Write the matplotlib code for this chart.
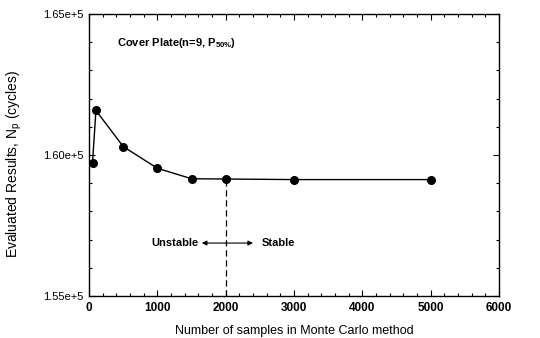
import matplotlib
matplotlib.use("Agg")
import matplotlib.pyplot as plt
from matplotlib.ticker import MultipleLocator, FuncFormatter

plt.rcParams['font.family'] = ['Liberation Sans', 'DejaVu Sans']

samples = [50, 100, 500, 1000, 1500, 2000, 3000, 5000]
cycles = [159730, 161580, 160300, 159530, 159160, 159150, 159130, 159130]
y_ticks = [155000, 160000, 165000]
x_ticks = [0, 1000, 2000, 3000, 4000, 5000, 6000]
threshold = 2000

fig = plt.figure(figsize=(5.4, 3.38), dpi=100)
ax = fig.add_axes([0.165, 0.124, 0.759, 0.8346])

ax.plot(samples, cycles, color='black', lw=1.0, marker='o', ms=5.5,
        markerfacecolor='black', markeredgecolor='black')
ax.plot([threshold, threshold], [155000, cycles[samples.index(threshold)]],
        color='black', lw=0.9, ls=(0, (5, 3)))

ax.set_xlim(0, 6000)
ax.set_ylim(155000, 165000)
ax.set_xticks(x_ticks)
ax.set_yticks(y_ticks)
ax.xaxis.set_minor_locator(MultipleLocator(200))
ax.yaxis.set_minor_locator(MultipleLocator(1000))
ax.yaxis.set_major_formatter(FuncFormatter(lambda v, p: f"{v/1e5:.2f}e+5"))

ax.tick_params(which='both', direction='in', top=True, right=True, width=0.8)
ax.tick_params(which='major', length=4)
ax.tick_params(which='minor', length=2)
ax.tick_params(axis='x', labelsize=8.5, pad=4)
ax.tick_params(axis='y', labelsize=8, pad=4)
for lab in ax.get_xticklabels():
    lab.set_fontweight('bold')
for s in ax.spines.values():
    s.set_linewidth(1.0)

ax.set_xlabel("Number of samples in Monte Carlo method", fontsize=9, labelpad=8)
ax.set_ylabel("Evaluated Results, N$_\\mathregular{p}$ (cycles)", fontsize=10)
ax.yaxis.set_label_coords(-0.158, 0.47)

ax.text(410, 163970, "Cover Plate(n=9, P$_\\mathregular{50\\%}$)", fontsize=8,
        fontweight='bold', va='center', ha='left')

arrow_y = 156880
ax.annotate("", xy=(1650, arrow_y), xytext=(threshold, arrow_y),
            arrowprops=dict(arrowstyle='-|>', color='black', lw=0.8,
                            mutation_scale=7, shrinkA=0, shrinkB=0))
ax.annotate("", xy=(2400, arrow_y), xytext=(threshold, arrow_y),
            arrowprops=dict(arrowstyle='-|>', color='black', lw=0.8,
                            mutation_scale=7, shrinkA=0, shrinkB=0))
ax.text(1600, arrow_y, "Unstable", fontsize=8, fontweight='bold',
        ha='right', va='center')
ax.text(2530, arrow_y, "Stable", fontsize=8, fontweight='bold',
        ha='left', va='center')

fig.savefig("out.png", dpi=100)
